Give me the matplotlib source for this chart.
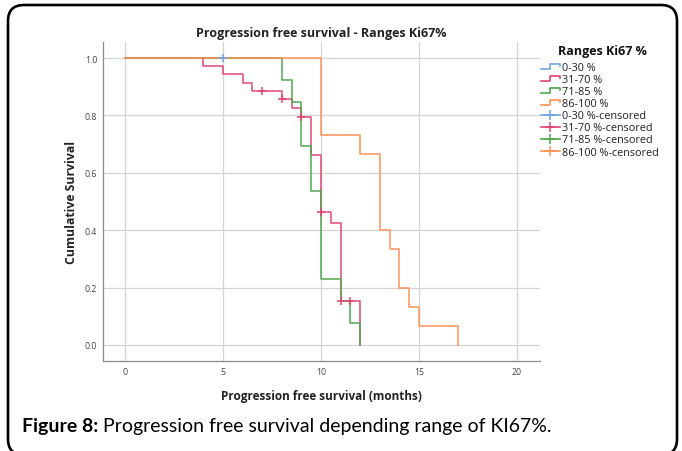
import matplotlib.pyplot as plt
from matplotlib.lines import Line2D
from matplotlib.legend_handler import HandlerBase
from matplotlib.patches import FancyBboxPatch
from matplotlib.transforms import IdentityTransform

# Kaplan-Meier steps
blue_t = [0, 5]
blue_s = [1.0, 1.0]
red_t = [0, 4, 5, 6, 6.5, 8, 8.5, 9, 9.5, 10, 10.5, 11, 12]
red_s = [1.0, 0.971, 0.943, 0.914, 0.886, 0.857, 0.825, 0.793, 0.662, 0.463, 0.425, 0.154, 0.0]
green_t = [0, 8, 8.5, 9, 9.5, 10, 11, 11.5, 12]
green_s = [1.0, 0.923, 0.846, 0.692, 0.538, 0.231, 0.154, 0.077, 0.0]
orange_t = [0, 10, 12, 13, 13.5, 14, 14.5, 15, 17]
orange_s = [1.0, 0.733, 0.667, 0.400, 0.333, 0.200, 0.133, 0.067, 0.0]

# censored observations
blue_ct = [5]
blue_cs = [1.0]
red_ct = [7, 8, 9, 10, 11, 11.5]
red_cs = [0.886, 0.857, 0.793, 0.463, 0.154, 0.154]

groups = ["0-30 %", "31-70 %", "71-85 %", "86-100 %"]
colors = ["#6fa3e6", "#e2456f", "#4ea64e", "#ff9053"]

xticks = [0, 5, 10, 15, 20]
yticks = [0.0, 0.2, 0.4, 0.6, 0.8, 1.0]


class StepHandler(HandlerBase):
    def create_artists(self, legend, orig_handle, xdescent, ydescent,
                       width, height, fontsize, trans):
        x0, y0 = -xdescent, -ydescent
        xs = [x0, x0 + 0.45 * width, x0 + 0.45 * width, x0 + width, x0 + width]
        ys = [y0 + 0.15 * height, y0 + 0.15 * height, y0 + 0.85 * height,
              y0 + 0.85 * height, y0 + 0.55 * height]
        ln = Line2D(xs, ys, color=orig_handle.get_color(),
                    lw=orig_handle.get_linewidth())
        ln.set_transform(trans)
        return [ln]


plt.rcParams["font.family"] = ["Open Sans", "DejaVu Sans"]

fig = plt.figure(figsize=(6.82, 4.52), dpi=100)
ax = fig.add_axes([0.1506, 0.1991, 0.6412, 0.7058])

lw = 1.2
series = [(blue_t, blue_s), (red_t, red_s), (green_t, green_s), (orange_t, orange_s)]
step_handles = []
for (t, s), c in zip(series, colors):
    h, = ax.step(t, s, where="post", color=c, lw=lw, alpha=0.9, zorder=3)
    step_handles.append(h)

ax.plot(blue_ct, blue_cs, ls="none", marker="+", ms=6, mew=1.1, color=colors[0], zorder=4)
ax.plot(red_ct, red_cs, ls="none", marker="+", ms=6, mew=1.1, color=colors[1], zorder=4)

ax.set_xlim(-1.14, 21.17)
ax.set_ylim(-0.056, 1.056)
ax.set_xticks(xticks)
ax.set_yticks(yticks)
ax.set_yticklabels([f"{v:.1f}" for v in yticks])
ax.tick_params(axis="both", length=0, labelsize=6.3, colors="#444444", pad=4)
ax.grid(True, color="#d4d4d4", lw=0.9)
ax.set_axisbelow(True)
for side in ["top", "right"]:
    ax.spines[side].set_visible(False)
for side in ["left", "bottom"]:
    ax.spines[side].set_color("#8a8a8a")
    ax.spines[side].set_linewidth(0.9)

ax.set_title("Progression free survival - Ranges Ki67%", fontsize=9,
             fontweight="bold", color="#222222", pad=4)
ax.set_xlabel("Progression free survival (months)", fontsize=8.5,
              fontweight="bold", color="#222222", labelpad=10)
ax.set_ylabel("Cumulative Survival", fontsize=8.8, fontweight="bold",
              color="#222222", labelpad=5)

cens_handles = [Line2D([], [], color=c, lw=lw, marker="+", ms=7, mew=1.1)
                for c in colors]
handles = step_handles + cens_handles
labels = groups + [g + "-censored" for g in groups]
hmap = {h: StepHandler() for h in step_handles}
leg = fig.legend(handles, labels, handler_map=hmap, loc="upper left",
                 bbox_to_anchor=(541 / 682, 1 - 63 / 452), frameon=False,
                 fontsize=7.8, handlelength=1.75, handletextpad=0.2,
                 labelspacing=0.1, borderaxespad=0, borderpad=0,
                 numpoints=1)
for txt in leg.get_texts():
    txt.set_color("#222222")
fig.text(558 / 682, 1 - 52 / 452, "Ranges Ki67 %", fontsize=9, fontweight="bold",
         color="#111111", va="center", ha="left")

# outer rounded border
border = FancyBboxPatch((8, -4), 669, 450, boxstyle="round,pad=0,rounding_size=16",
                        fill=False, ec="black", lw=1.9, transform=IdentityTransform())
fig.add_artist(border)

# caption
fig.canvas.draw()
r = fig.canvas.get_renderer()
cap1 = fig.text(22 / 682, 0.056, "Figure 8:", fontsize=14, fontweight="bold",
                family=["Lato", "DejaVu Sans"], va="center")
bb = cap1.get_window_extent(r)
fig.text((bb.x1 + 5) / 682, 0.056, "Progression free survival depending range of KI67%.",
         fontsize=14, family=["Lato", "DejaVu Sans"], va="center")

fig.savefig("out.png", dpi=100)
